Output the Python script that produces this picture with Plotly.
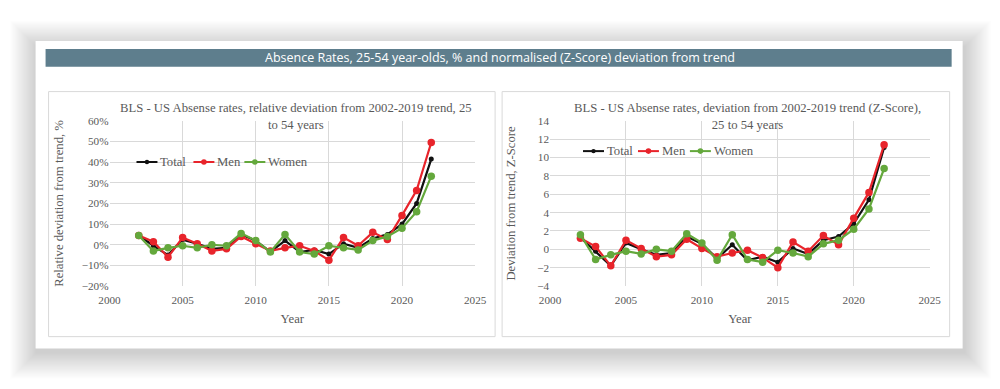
import plotly.graph_objects as go

years = list(range(2002, 2023))

rel_total = [4.5, -0.5, -5.0, 2.5, 0.5, -2.0, -1.5, 5.0, 2.0, -3.5, 2.0, -3.5, -2.5, -4.5, 0.5, -1.5, 3.0, 5.0, 10.0, 20.0, 41.5]
rel_men = [4.5, 1.5, -6.0, 3.5, 0.5, -3.0, -2.0, 4.0, 0.5, -3.0, -1.5, -0.5, -3.0, -7.5, 3.5, -0.5, 6.0, 2.5, 14.2, 26.3, 49.5]
rel_women = [4.5, -3.0, -1.5, -0.5, -1.5, 0.0, -0.5, 5.5, 2.0, -3.5, 5.0, -3.5, -4.5, -0.5, -1.5, -2.5, 2.0, 4.0, 8.0, 16.0, 33.2]

z_total = [1.3, -0.2, -1.8, 0.7, 0.0, -0.6, -0.4, 1.4, 0.6, -1.0, 0.5, -1.2, -0.8, -1.4, 0.1, -0.5, 1.0, 1.4, 2.8, 5.4, 11.1]
z_men = [1.2, 0.3, -1.8, 1.0, 0.1, -0.8, -0.6, 1.1, 0.1, -0.8, -0.4, -0.1, -0.9, -2.0, 0.8, -0.2, 1.5, 0.5, 3.4, 6.2, 11.4]
z_women = [1.6, -1.1, -0.6, -0.2, -0.5, 0.0, -0.2, 1.7, 0.7, -1.2, 1.6, -1.1, -1.4, -0.1, -0.4, -0.8, 0.6, 1.0, 2.2, 4.4, 8.8]

series_names = ["Total", "Men", "Women"]
colors = {"Total": "#111111", "Men": "#e8242b", "Women": "#64a83c"}
msize = {"Total": 5, "Men": 7.5, "Women": 7.5}

header_text = "Absence Rates, 25-54 year-olds, % and normalised (Z-Score) deviation from trend"
title_left = "BLS - US Absense rates, relative deviation from 2002-2019 trend, 25<br>to 54 years"
title_right = "BLS - US Absense rates, deviation from 2002-2019 trend (Z-Score),<br>25 to 54 years"

SERIF = "Liberation Serif, Times New Roman, serif"
TXT = "#595959"

# measured mapping of the paper area onto the captured page (pixels)
OX, OY, PW, PH = 18.4, 12.8, 978.0, 380.0


def px(x):
    return (x - OX) / PW


def py(y):
    return 1 - (y - OY) / PH


fig = go.Figure()

left = {"Total": rel_total, "Men": rel_men, "Women": rel_women}
right = {"Total": z_total, "Men": z_men, "Women": z_women}

for name in series_names:
    fig.add_trace(go.Scatter(
        x=years, y=left[name], name=name, mode="lines+markers",
        line=dict(color=colors[name], width=2.2),
        marker=dict(color=colors[name], size=msize[name]),
        xaxis="x", yaxis="y", showlegend=False,
    ))
for name in series_names:
    fig.add_trace(go.Scatter(
        x=years, y=right[name], name=name, mode="lines+markers",
        line=dict(color=colors[name], width=2.2),
        marker=dict(color=colors[name], size=msize[name]),
        xaxis="x2", yaxis="y2", showlegend=False,
    ))

shapes = []
annotations = []

# soft drop shadow of card
N = 24
for i in range(N):
    g = (N - i) * 1.1
    shapes.append(dict(
        type="rect", xref="paper", yref="paper", layer="below",
        x0=px(35 - g + 1), x1=px(963 + g + 2), y0=py(350 + g + 4), y1=py(40 - g + 6),
        fillcolor="rgba(0,0,0,0.0075)", line=dict(width=0),
    ))
# card
shapes.append(dict(type="rect", xref="paper", yref="paper", layer="below",
                   x0=px(35), x1=px(963), y0=py(350), y1=py(40),
                   fillcolor="white", line=dict(width=0)))
# header bar
shapes.append(dict(type="rect", xref="paper", yref="paper", layer="below",
                   x0=px(45), x1=px(952), y0=py(66), y1=py(48),
                   fillcolor="#5e7e8d", line=dict(width=0)))
# panel boxes
for x0, x1 in [(48, 495), (502, 950)]:
    shapes.append(dict(type="rect", xref="paper", yref="paper", layer="below",
                       x0=px(x0), x1=px(x1), y0=py(338), y1=py(91),
                       fillcolor="white", line=dict(color="#d9d9d9", width=1)))

annotations += [
    dict(text=header_text, x=px(500), y=py(57), xref="paper", yref="paper",
         showarrow=False, font=dict(family="Open Sans, sans-serif", size=12.5, color="white"),
         xanchor="center", yanchor="middle"),
    dict(text=title_left, x=px(296), y=py(116), xref="paper", yref="paper",
         showarrow=False, font=dict(family=SERIF, size=12.7, color=TXT),
         xanchor="center", yanchor="middle"),
    dict(text=title_right, x=px(748), y=py(116), xref="paper", yref="paper",
         showarrow=False, font=dict(family=SERIF, size=12.7, color=TXT),
         xanchor="center", yanchor="middle"),
]

# legends (line + dot + label for each series), one per panel
legend_specs = [
    (162, [136, 193, 244]),
    (151, [583, 638, 690]),
]
for ly, starts in legend_specs:
    for name, sx in zip(series_names, starts):
        col = colors[name]
        shapes.append(dict(type="line", xref="paper", yref="paper",
                           x0=px(sx), x1=px(sx + 21), y0=py(ly), y1=py(ly),
                           line=dict(color=col, width=2)))
        r = 2.2 if name == "Total" else 2.8
        cx = sx + 10.5
        shapes.append(dict(type="circle", xref="paper", yref="paper",
                           x0=px(cx - r), x1=px(cx + r), y0=py(ly + r), y1=py(ly - r),
                           fillcolor=col, line=dict(color=col, width=0)))
        annotations.append(dict(text=name, x=px(sx + 22), y=py(ly), xref="paper", yref="paper",
                                showarrow=False, xanchor="left", yanchor="middle",
                                font=dict(family=SERIF, size=12.7, color=TXT)))

axis_common = dict(showgrid=True, gridcolor="#d9d9d9", gridwidth=1, zeroline=False,
                   showline=False, ticks="", tickfont=dict(family=SERIF, size=11.2, color=TXT),
                   title_font=dict(family=SERIF, size=12.7, color=TXT))

ydom = [py(287), py(120.5)]

fig.update_layout(
    width=1000, height=389, margin=dict(l=0, r=0, t=0, b=0),
    paper_bgcolor="white", plot_bgcolor="rgba(0,0,0,0)",
    shapes=shapes, annotations=annotations, showlegend=False,
    xaxis=dict(domain=[px(109), px(475)], range=[2000, 2025], dtick=5, tick0=2000,
               anchor="y", ticklabelstandoff=6, title=dict(text="Year", standoff=8), **axis_common),
    yaxis=dict(domain=ydom, range=[-20, 60], dtick=10, ticksuffix="%", anchor="x",
               title=dict(text="Relative deviation from trend, %", standoff=15), **axis_common),
    xaxis2=dict(domain=[px(550), px(930)], range=[2000, 2025], dtick=5, tick0=2000,
                anchor="y2", ticklabelstandoff=6, title=dict(text="Year", standoff=8), **axis_common),
    yaxis2=dict(domain=ydom, range=[-4, 14], dtick=2, anchor="x2",
                title=dict(text="Deviation from trend, Z-Score", standoff=18), **axis_common),
)

fig.write_html("out.html")
